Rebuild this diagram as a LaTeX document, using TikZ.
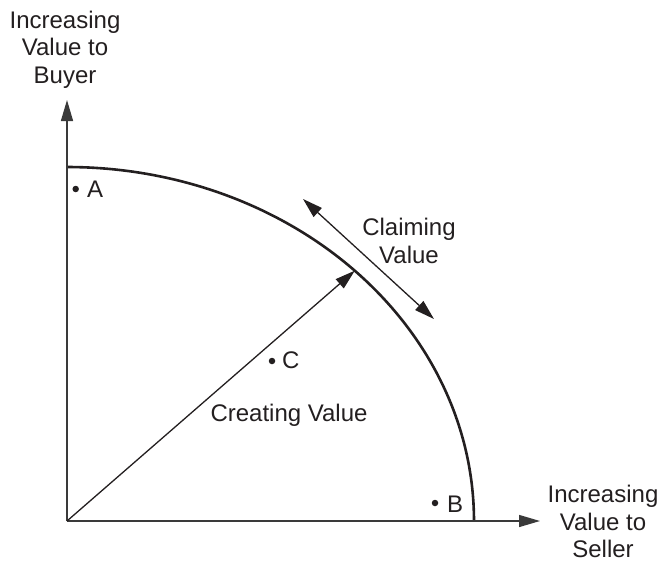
\documentclass[tikz,border=0pt]{standalone}
\usepackage{fontspec}
\setmainfont{Liberation Sans}
\usetikzlibrary{arrows.meta}
\definecolor{ink}{HTML}{231F20}
\definecolor{axisgray}{HTML}{3A3A3A}
\begin{document}
\begin{tikzpicture}[x=1pt,y=-1pt,
  lbl/.style={inner sep=0pt, text=ink, font=\fontsize{24}{27.8}\selectfont},
  mlbl/.style={lbl, align=center, anchor=north},
  ptdot/.style={circle, fill=ink, inner sep=0pt, minimum size=6.5pt},
  axisline/.style={line width=1.4pt, draw=axisgray, -{Triangle[length=21pt,width=12pt]}},
  conn/.style={line width=1.3pt, draw=ink},
  tipA/.style={-{Triangle[length=20pt,width=12pt]}},
  tipAB/.style={{Triangle[length=20pt,width=12pt]}-{Triangle[length=20pt,width=12pt]}},
  frontier/.style={line width=2.6pt, draw=ink}
]
\useasboundingbox (0,0) rectangle (659,562);
\coordinate (O) at (67,521);
\coordinate (Ytip) at (67,100);
\coordinate (Xtip) at (540,521);
\coordinate (P) at ({67+407*cos(45)},{521-354*sin(45)});
\coordinate (Ca) at (303,199);
\coordinate (Cb) at (434,319);

\draw[frontier] plot[domain=0:90, samples=120] ({67+407*cos(\x)},{521-354*sin(\x)});
\draw[axisline] (O) -- (Ytip);
\draw[axisline] (O) -- (Xtip);
\draw[conn, tipA] (O) -- (P);
\draw[conn, tipAB] (Ca) -- (Cb);

\node[mlbl] (buyer) at (65,10.5) {Increasing\\Value to\\Buyer};
\node[mlbl] (seller) at (603,484.8) {Increasing\\Value to\\Seller};
\node[mlbl] (claim) at (409,217.8) {Claiming\\Value};
\node[lbl, anchor=base] (create) at (289,421) {Creating Value};

\node[ptdot] (dA) at (75.7,189) {};
\node[lbl, anchor=base west] (A) at (87,197) {A};
\node[ptdot] (dC) at (272,361) {};
\node[lbl, anchor=base west] (C) at (282,368) {C};
\node[ptdot] (dB) at (435,503) {};
\node[lbl, anchor=base west] (B) at (447,512) {B};
\end{tikzpicture}
\end{document}
